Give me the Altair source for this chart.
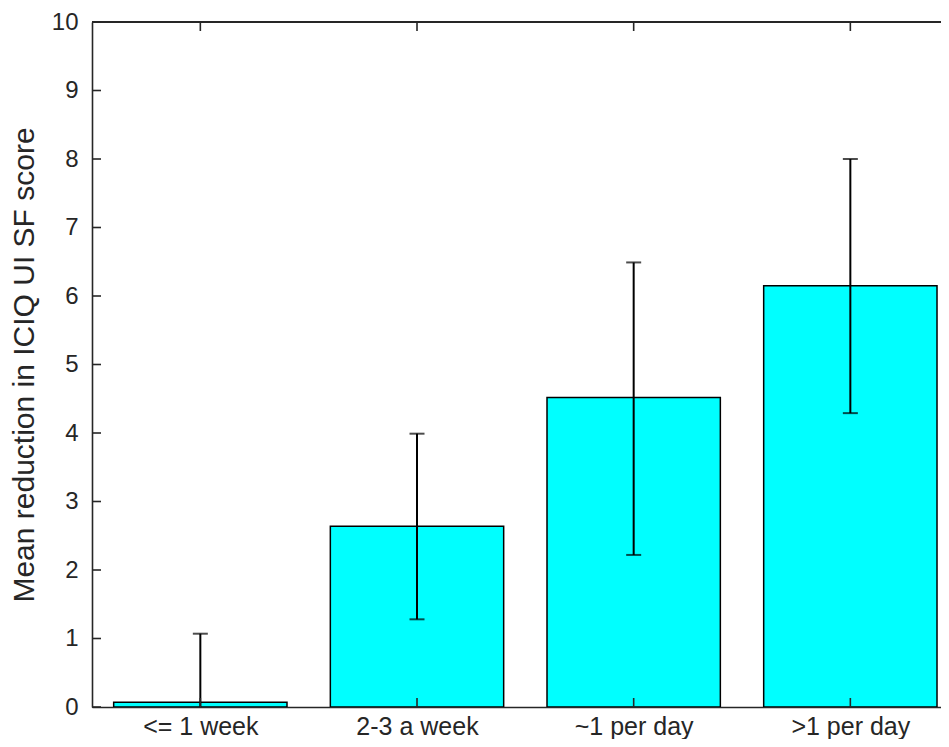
import altair as alt
import pandas as pd

categories = ["<= 1 week", "2-3 a week", "~1 per day", ">1 per day"]
means = [0.07, 2.64, 4.52, 6.15]
lower = [-0.93, 1.28, 2.22, 4.29]
upper = [1.07, 3.99, 6.49, 8.00]
y_ticks = [0, 1, 2, 3, 4, 5, 6, 7, 8, 9, 10]

W, H = 849, 685
STEP = 216.67
FONT = "Liberation Sans"
TXT = "#262626"

df = pd.DataFrame({
    "pos": list(range(1, len(categories) + 1)),
    "cat": categories,
    "mean": means,
    "lo": lower,
    "hi": upper,
})
ticks_df = pd.DataFrame({"v": y_ticks})

xs = alt.Scale(domain=[0.5, 0.5 + W / STEP], nice=False, zero=False, padding=0)
ys = alt.Scale(domain=[0, 10], nice=False, padding=0)

label_expr = "[" + ",".join("'" + c + "'" for c in categories) + "][datum.value - 1]"

x_axis = alt.Axis(values=list(range(1, len(categories) + 1)), labelExpr=label_expr,
                  ticks=False, tickSize=0, grid=False, title=None,
                  labelFont=FONT, labelFontSize=25, labelColor=TXT,
                  labelBaseline="alphabetic", labelPadding=27,
                  domainColor=TXT, domainWidth=1.6)
y_axis = alt.Axis(values=y_ticks, ticks=False, tickSize=0, grid=False,
                  title="Mean reduction in ICIQ UI SF score",
                  titleFont=FONT, titleFontSize=30, titleFontWeight="normal",
                  titleColor=TXT, titleX=-59, titleY=H / 2, titleAlign="center",
                  titleBaseline="alphabetic", titleAngle=-90,
                  labelFont=FONT, labelFontSize=24, labelColor=TXT,
                  labelPadding=14, domainColor=TXT, domainWidth=1.6)

X = alt.X("pos:Q", scale=xs, axis=x_axis)

base = alt.Chart(df)

bars = base.mark_bar(size=0.8 * STEP, fill="#00FFFF", stroke="black",
                     strokeWidth=1.5, orient="vertical", clip=True).encode(
    x=X,
    y=alt.Y("mean:Q", scale=ys, axis=y_axis),
)

err = base.mark_rule(color="black", strokeWidth=2, clip=True).encode(
    x=X,
    y=alt.Y("lo:Q", scale=ys, axis=y_axis),
    y2="hi:Q",
)
cap_hi = base.mark_tick(orient="horizontal", size=15, thickness=2,
                        color="black", clip=True).encode(
    x=X,
    y=alt.Y("hi:Q", scale=ys, axis=y_axis),
)
cap_lo = base.mark_tick(orient="horizontal", size=15, thickness=2,
                        color="black", clip=True).encode(
    x=X,
    y=alt.Y("lo:Q", scale=ys, axis=y_axis),
)

top_border = base.mark_rule(color=TXT, strokeWidth=1.6).encode(
    x=alt.value(0), x2=alt.value(W), y=alt.value(0))
top_ticks = base.mark_rule(color=TXT, strokeWidth=1.6).encode(
    x=X, y=alt.value(0), y2=alt.value(9))
bot_ticks = base.mark_rule(color=TXT, strokeWidth=1.6).encode(
    x=X, y=alt.value(H), y2=alt.value(H - 9))
left_ticks = alt.Chart(ticks_df).mark_rule(color=TXT, strokeWidth=1.6).encode(
    y=alt.Y("v:Q", scale=ys, axis=y_axis), x=alt.value(0), x2=alt.value(9))

chart = alt.layer(
    bars, err, cap_hi, cap_lo, top_border, top_ticks, bot_ticks, left_ticks
).properties(
    width=W, height=H,
    autosize=alt.AutoSizeParams(type="none"),
    padding={"left": 84, "top": 14, "right": 0, "bottom": 32},
    background="white",
).configure_view(stroke=None)

chart.save("out.html", embed_options={"renderer": "svg", "actions": False})
